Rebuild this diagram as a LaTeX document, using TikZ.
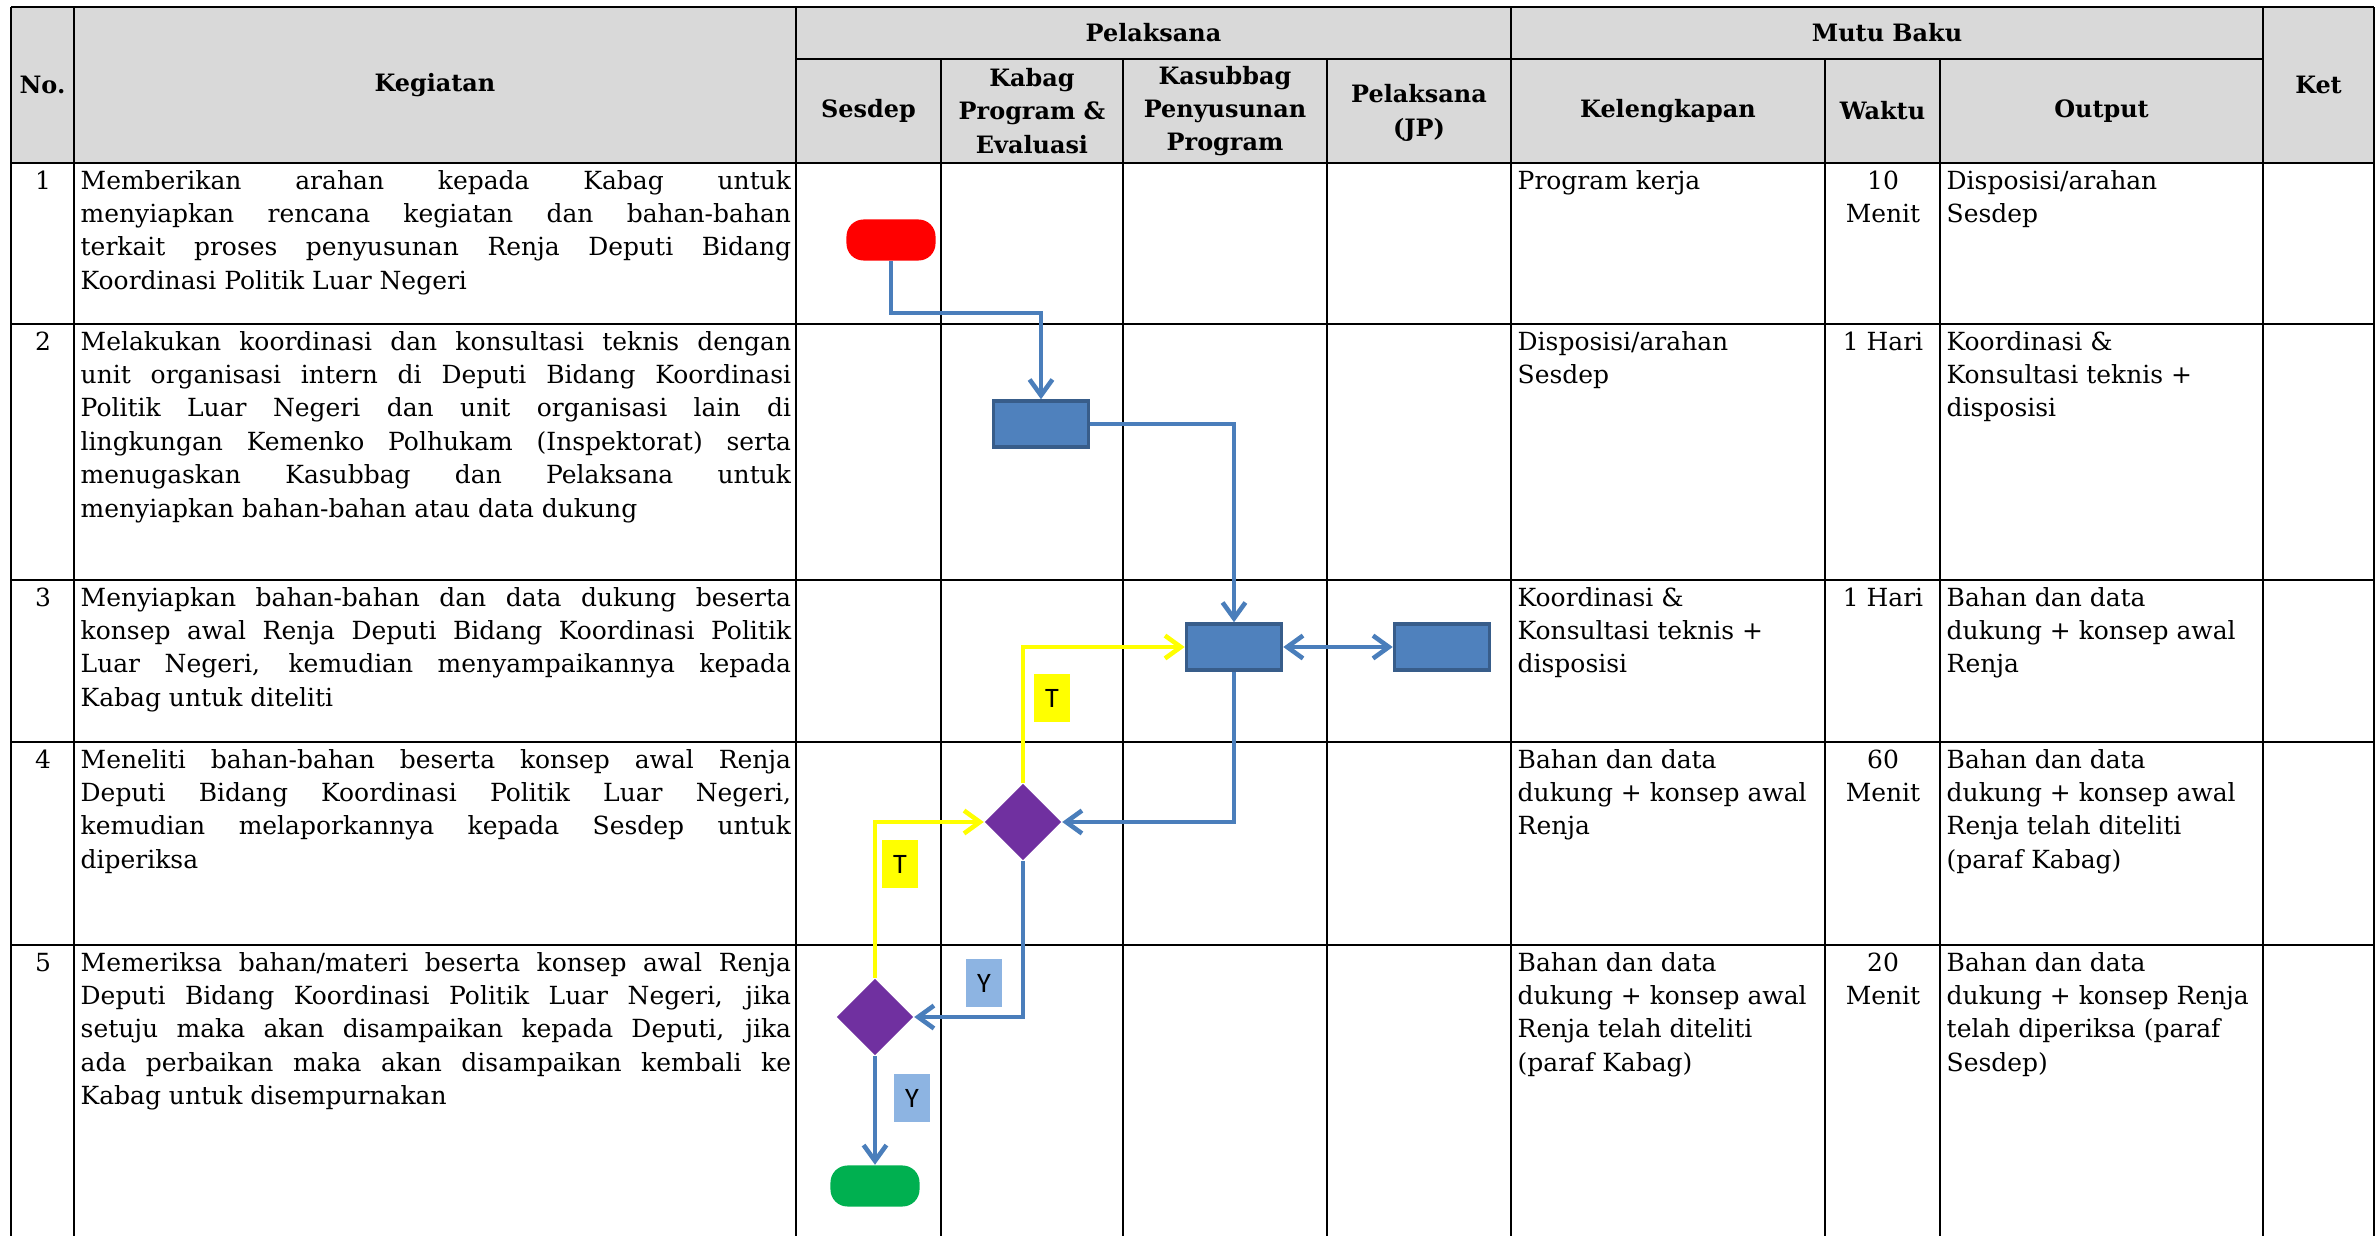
\documentclass[tikz,border=0pt]{standalone}
\usepackage{fontspec}
\setmainfont{DejaVu Serif}
\newfontfamily\lblfont{Carlito}
\usetikzlibrary{arrows.meta,shapes.geometric}
\definecolor{hdrgray}{HTML}{D9D9D9}
\definecolor{boxfill}{HTML}{4F81BD}
\definecolor{boxline}{HTML}{385D8A}
\definecolor{flowblue}{HTML}{4A7EBB}
\definecolor{decpurple}{HTML}{7030A0}
\definecolor{startred}{HTML}{FF0000}
\definecolor{endgreen}{HTML}{00B050}
\definecolor{ylab}{HTML}{FFFF00}
\definecolor{blab}{HTML}{8DB4E2}
\setlength\parindent{0pt}
\newlength\kegw
\setlength\kegw{7.1cm}
\newcommand\jl[1]{\makebox[\kegw][s]{#1}}
\begin{document}
\begin{tikzpicture}[x=0.01cm,y=-0.01cm,
  gridline/.style={line width=0.8pt,black},
  hd/.style={font=\fontsize{6.8pt}{9.5pt}\selectfont\bfseries,align=center,inner sep=0pt},
  bodytxt/.style={font=\fontsize{7.1pt}{9.5pt}\selectfont,align=left,inner sep=0pt,anchor=north west},
  ctxt/.style={font=\fontsize{7.1pt}{9.5pt}\selectfont,align=center,inner sep=0pt,anchor=north},
  procbox/.style={rectangle,fill=boxfill,draw=boxline,line width=1pt,minimum width=0.95cm,minimum height=0.46cm,inner sep=0pt},
  decision/.style={diamond,aspect=1,fill=decpurple,minimum width=0.77cm,minimum height=0.77cm,inner sep=0pt},
  terminal/.style={rectangle,rounded corners=0.17cm,minimum width=0.89cm,minimum height=0.41cm,inner sep=0pt},
  lbl/.style={font=\lblfont\fontsize{8pt}{9pt}\selectfont,inner sep=0pt,minimum width=0.36cm,minimum height=0.48cm},
  >={Straight Barb[length=4.5pt,width=6.5pt]},
  flow/.style={draw=flowblue,line width=1.3pt,->},
  yflow/.style={draw=ylab,line width=1.3pt,->}]
\useasboundingbox (0,0) rectangle (2377,1236);
% header background
\fill[hdrgray] (11,7) rectangle (2374,163);
% grid
\draw[gridline] (11,7) -- (2374,7);
\draw[gridline] (796,59) -- (2263,59);
\foreach \yy in {163,324,580,742,945} \draw[gridline] (11,\yy) -- (2374,\yy);
\foreach \xx in {11,74,796,1511,2263,2374} \draw[gridline] (\xx,7) -- (\xx,1236);
\foreach \xx in {941,1123,1327,1825,1940} \draw[gridline] (\xx,59) -- (\xx,1236);
% header texts
\node[hd] (hno) at (42.5,85) {No.};
\node[hd] (hkeg) at (435,85) {Kegiatan};
\node[hd] (hpel) at (1153.5,33) {Pelaksana};
\node[hd] (hmutu) at (1887,33) {Mutu Baku};
\node[hd] (hket) at (2318.5,85) {Ket};
\node[hd] (hses) at (868.5,111) {Sesdep};
\node[hd] (hkab) at (1032,111) {Kabag\\Program \&\\Evaluasi};
\node[hd] (hkas) at (1225,111) {Kasubbag\\Penyusunan\\Program};
\node[hd] (hjp) at (1419,113) {Pelaksana\\(JP)};
\node[hd] (hkel) at (1668,111) {Kelengkapan};
\node[hd] (hwak) at (1882.5,111) {Waktu};
\node[hd] (hout) at (2101.5,111) {Output};
% row 1
\node[ctxt] (n1) at (43,165) {\strut 1};
\node[bodytxt] (k1) at (80,165) {\jl{\strut Memberikan arahan kepada Kabag untuk}\\\jl{menyiapkan rencana kegiatan dan bahan-bahan}\\\jl{terkait proses penyusunan Renja Deputi Bidang}\\Koordinasi Politik Luar Negeri};
\node[bodytxt] (l1) at (1517,165) {\strut Program kerja};
\node[ctxt] (w1) at (1883,165) {\strut 10\\Menit};
\node[bodytxt] (o1) at (1946,165) {\strut Disposisi/arahan\\Sesdep};
% row 2
\node[ctxt] (n2) at (43,326) {\strut 2};
\node[bodytxt] (k2) at (80,326) {\jl{\strut Melakukan koordinasi dan konsultasi teknis dengan}\\\jl{unit organisasi intern di Deputi Bidang Koordinasi}\\\jl{Politik Luar Negeri dan unit organisasi lain di}\\\jl{lingkungan Kemenko Polhukam (Inspektorat) serta}\\\jl{menugaskan Kasubbag dan Pelaksana untuk}\\menyiapkan bahan-bahan atau data dukung};
\node[bodytxt] (l2) at (1517,326) {\strut Disposisi/arahan\\Sesdep};
\node[ctxt] (w2) at (1883,326) {\strut 1 Hari};
\node[bodytxt] (o2) at (1946,326) {\strut Koordinasi \&\\Konsultasi teknis +\\disposisi};
% row 3
\node[ctxt] (n3) at (43,582) {\strut 3};
\node[bodytxt] (k3) at (80,582) {\jl{\strut Menyiapkan bahan-bahan dan data dukung beserta}\\\jl{konsep awal Renja Deputi Bidang Koordinasi Politik}\\\jl{Luar Negeri, kemudian menyampaikannya kepada}\\Kabag untuk diteliti};
\node[bodytxt] (l3) at (1517,582) {\strut Koordinasi \&\\Konsultasi teknis +\\disposisi};
\node[ctxt] (w3) at (1883,582) {\strut 1 Hari};
\node[bodytxt] (o3) at (1946,582) {\strut Bahan dan data\\dukung + konsep awal\\Renja};
% row 4
\node[ctxt] (n4) at (43,744) {\strut 4};
\node[bodytxt] (k4) at (80,744) {\jl{\strut Meneliti bahan-bahan beserta konsep awal Renja}\\\jl{Deputi Bidang Koordinasi Politik Luar Negeri,}\\\jl{kemudian melaporkannya kepada Sesdep untuk}\\diperiksa};
\node[bodytxt] (l4) at (1517,744) {\strut Bahan dan data\\dukung + konsep awal\\Renja};
\node[ctxt] (w4) at (1883,744) {\strut 60\\Menit};
\node[bodytxt] (o4) at (1946,744) {\strut Bahan dan data\\dukung + konsep awal\\Renja telah diteliti\\(paraf Kabag)};
% row 5
\node[ctxt] (n5) at (43,947) {\strut 5};
\node[bodytxt] (k5) at (80,947) {\jl{\strut Memeriksa bahan/materi beserta konsep awal Renja}\\\jl{Deputi Bidang Koordinasi Politik Luar Negeri, jika}\\\jl{setuju maka akan disampaikan kepada Deputi, jika}\\\jl{ada perbaikan maka akan disampaikan kembali ke}\\Kabag untuk disempurnakan};
\node[bodytxt] (l5) at (1517,947) {\strut Bahan dan data\\dukung + konsep awal\\Renja telah diteliti\\(paraf Kabag)};
\node[ctxt] (w5) at (1883,947) {\strut 20\\Menit};
\node[bodytxt] (o5) at (1946,947) {\strut Bahan dan data\\dukung + konsep Renja\\telah diperiksa (paraf\\Sesdep)};
% flowchart shapes
\node[terminal,fill=startred] (start) at (891,240) {};
\node[procbox] (b1) at (1041,424) {};
\node[procbox] (b2) at (1234,647) {};
\node[procbox] (b3) at (1442,647) {};
\node[decision] (d1) at (1023,822) {};
\node[decision] (d2) at (875,1017) {};
\node[terminal,fill=endgreen] (stop) at (875,1186) {};
\node[lbl,fill=ylab] (t1) at (1052,698) {T};
\node[lbl,fill=ylab] (t2) at (900,864) {T};
\node[lbl,fill=blab] (y1) at (984,983) {Y};
\node[lbl,fill=blab] (y2) at (912,1098) {Y};
% connectors
\coordinate (bend1) at (891,313);
\draw[flow] (start.south) -- (bend1) -| (b1.north);
\draw[flow] (b1.east) -| (b2.north);
\draw[flow,<->] (b2.east) -- (b3.west);
\draw[yflow] (d1.north) |- (b2.west);
\draw[flow] (b2.south) |- (d1.east);
\draw[yflow] (d2.north) |- (d1.west);
\draw[flow] (d1.south) |- (d2.east);
\draw[flow] (d2.south) -- (stop.north);
\end{tikzpicture}
\end{document}
